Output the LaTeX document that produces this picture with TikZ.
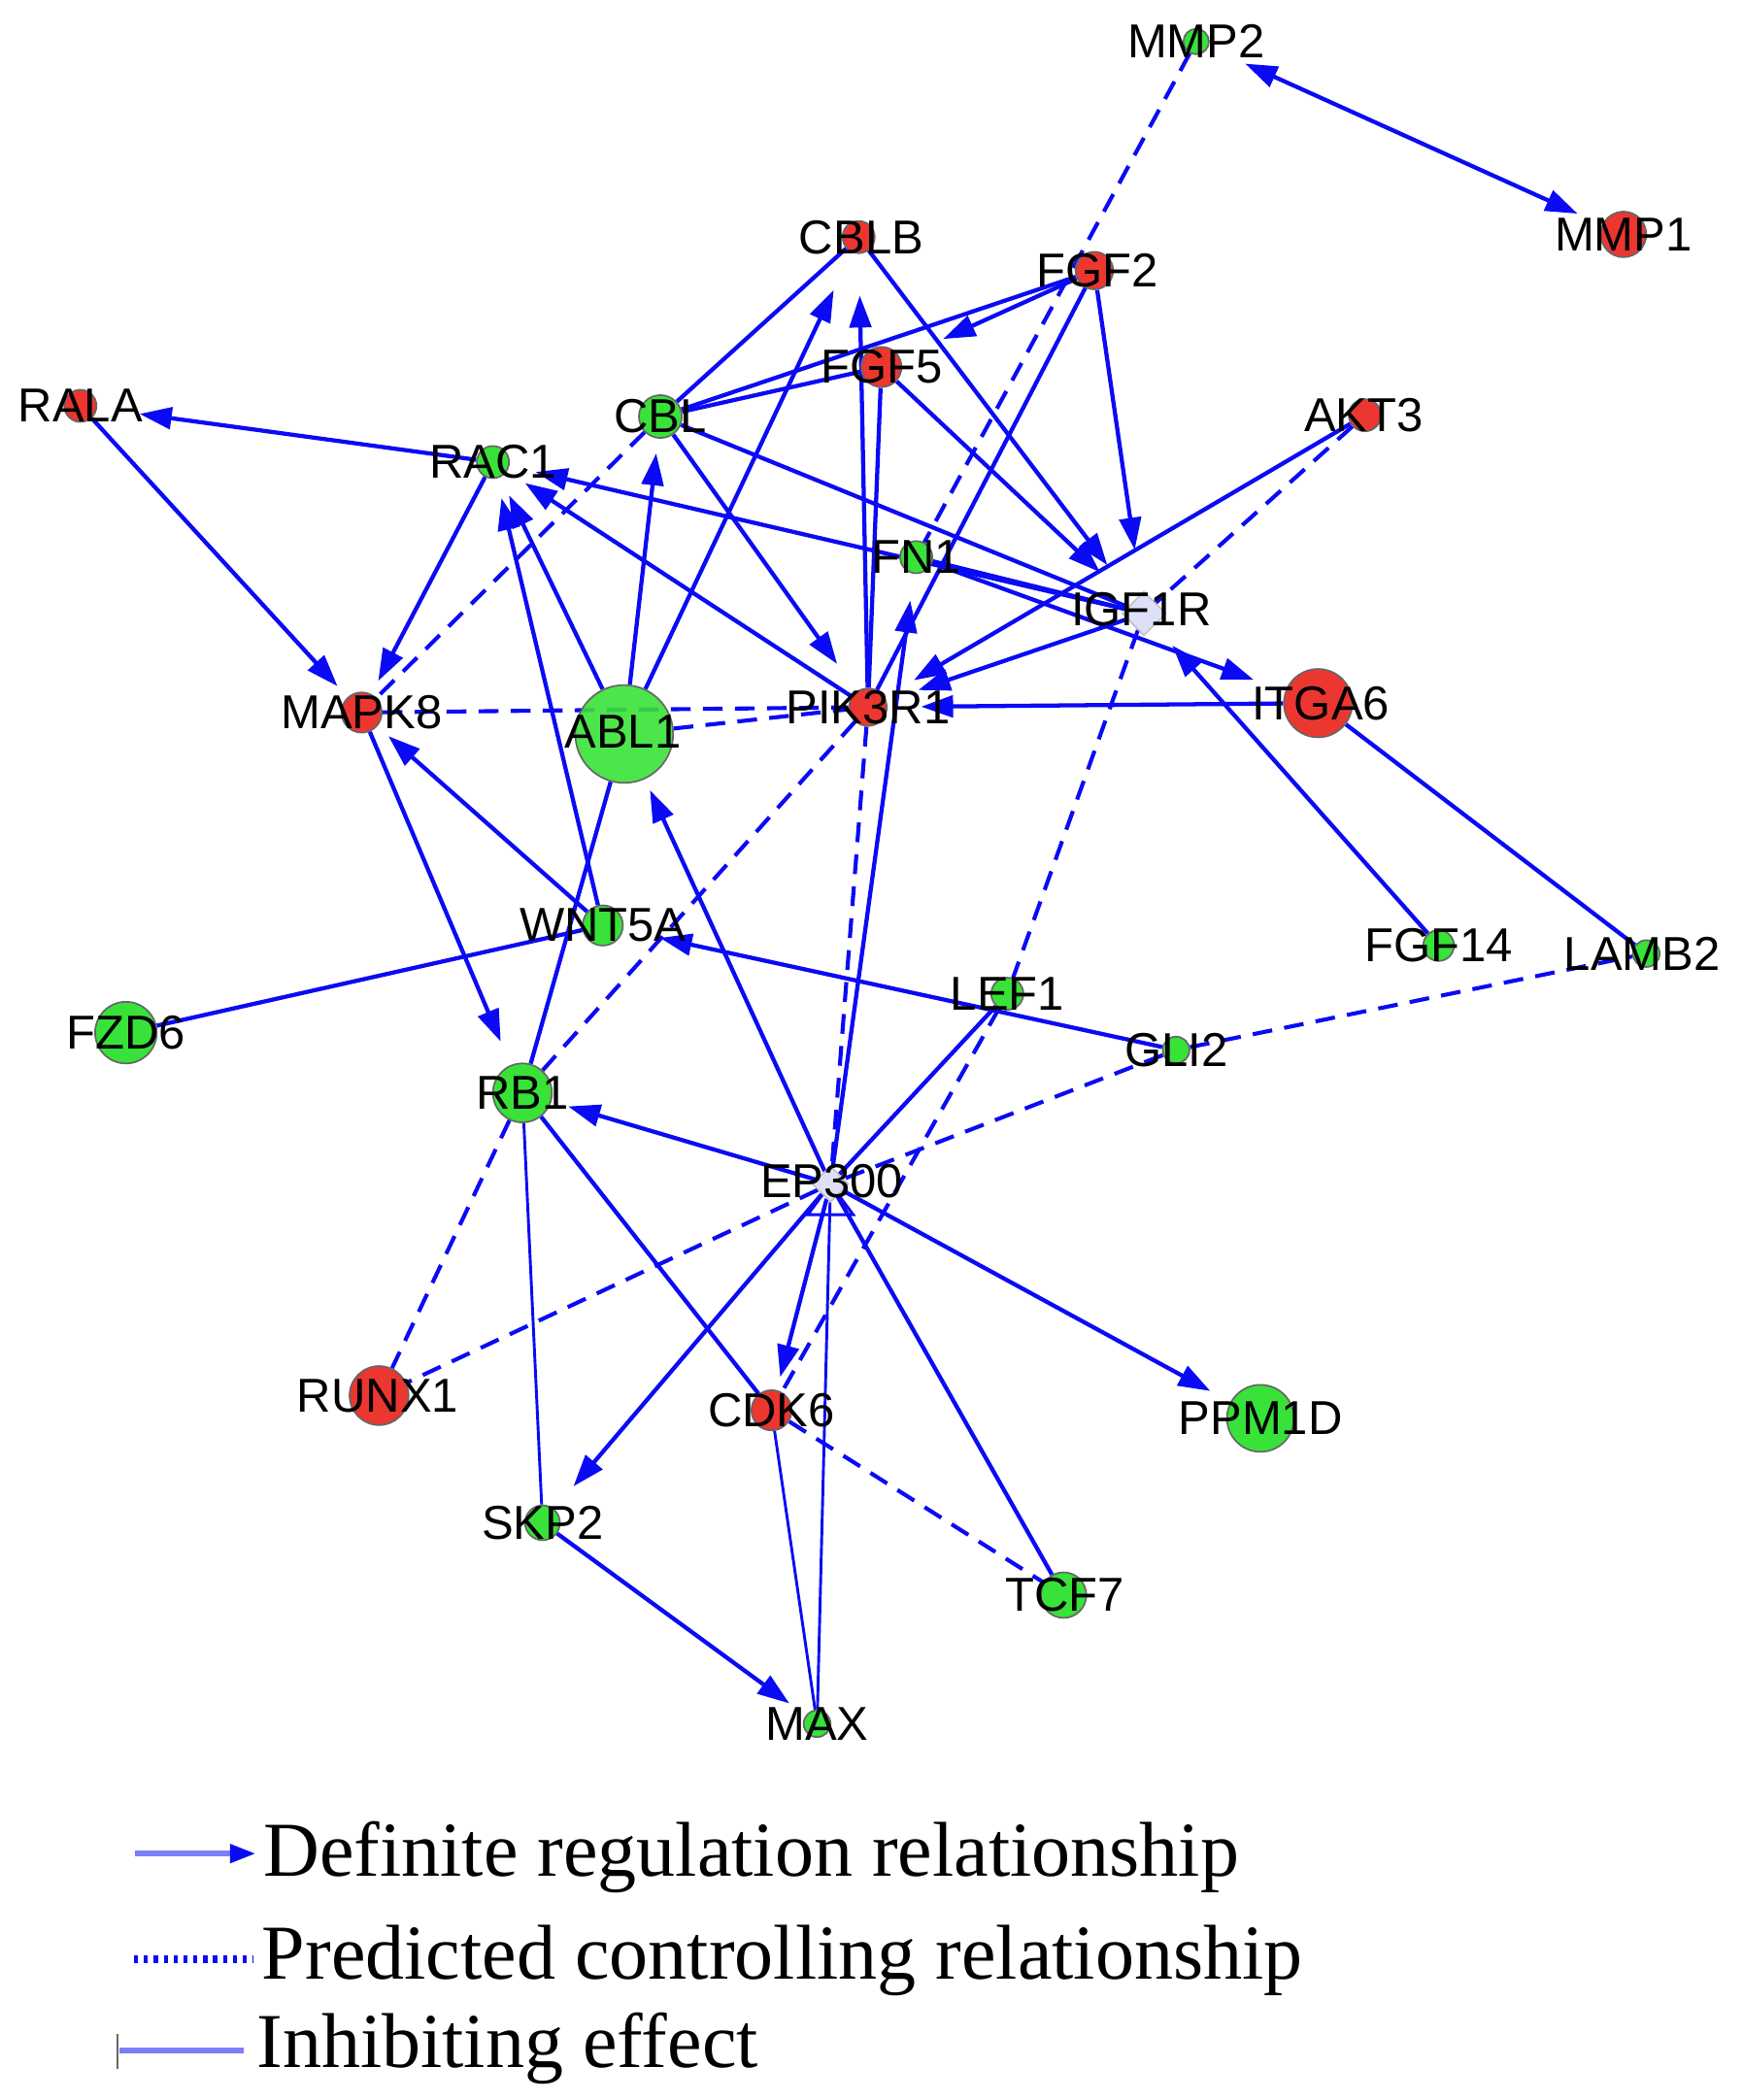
\documentclass[tikz,border=0pt]{standalone}
\usepackage{fontspec}
\setmainfont{Liberation Serif}
\newfontfamily\lsans{Liberation Sans}
\usetikzlibrary{shapes.geometric,arrows.meta,backgrounds}
\definecolor{eblue}{RGB}{10,10,245}
\definecolor{nred}{RGB}{236,54,48}
\definecolor{ngreen}{RGB}{56,226,56}
\definecolor{dfill}{RGB}{222,224,248}
\definecolor{legl}{RGB}{125,125,250}
\tikzset{
  sol/.style={draw=eblue, line width=0.88pt},
  thin/.style={draw=eblue, line width=0.6pt},
  pred/.style={draw=eblue, line width=0.85pt, dash pattern=on 4.2pt off 2.6pt},
  arr/.style={-{Triangle[length=6.8pt,width=4.6pt]}, shorten >=#1},
  rnode/.style={circle, fill=nred, draw=black!60, line width=0.35pt, inner sep=0pt, minimum size=#1},
  gnode/.style={circle, fill=ngreen, draw=black!60, line width=0.35pt, inner sep=0pt, minimum size=#1},
  dnode/.style={diamond, fill=dfill, draw=black!25, line width=0.3pt, inner sep=0pt, minimum width=#1, minimum height=#1},
  lbl/.style={font=\lsans\fontsize{10.1}{12}\selectfont, inner sep=0pt, text=black},
  legtxt/.style={font=\fontsize{16.5}{19}\selectfont, inner sep=0pt, anchor=base west, text=black},
}
\begin{document}
\begin{tikzpicture}[x=0.01cm, y=-0.01cm]
\useasboundingbox (0,0) rectangle (1301,1568);
% nodes (circles)
\node[gnode=1.9mm] (MMP2) at (893,31) {};
\node[rnode=3.4mm] (MMP1) at (1212,175) {};
\node[rnode=2.4mm] (CBLB) at (641,177) {};
\node[rnode=2.8mm] (FGF2) at (817,202) {};
\node[rnode=3.0mm] (FGF5) at (658,274) {};
\node[rnode=2.4mm] (RALA) at (60,303) {};
\node[gnode=3.2mm] (CBL) at (493,311) {};
\node[rnode=2.4mm] (AKT3) at (1019,310) {};
\node[gnode=2.4mm] (RAC1) at (368,345) {};
\node[gnode=2.4mm] (FN1) at (684,416) {};
\node[dnode=3.3mm] (IGF1R) at (854,458) {};
\node[rnode=3.0mm] (MAPK8) at (270,532) {};
\node[gnode=7.3mm, fill opacity=0.9] (ABL1) at (466,548) {};
\node[rnode=2.8mm] (PIK3R1) at (648,528) {};
\node[rnode=5.1mm] (ITGA6) at (984,525) {};
\node[gnode=3.0mm] (WNT5A) at (450,691) {};
\node[gnode=2.3mm] (FGF14) at (1074,706) {};
\node[gnode=2.0mm] (LAMB2) at (1229,712) {};
\node[gnode=2.4mm] (LEF1) at (752,742) {};
\node[gnode=4.6mm] (FZD6) at (94,771) {};
\node[gnode=2.0mm] (GLI2) at (878,784) {};
\node[gnode=4.4mm] (RB1) at (390,816) {};
\node[dnode=2.7mm] (EP300) at (620,884) {};
\node[rnode=4.4mm] (RUNX1) at (283,1042) {};
\node[rnode=3.0mm] (CDK6) at (576,1053) {};
\node[gnode=5.0mm] (PPM1D) at (941,1059) {};
\node[gnode=2.6mm] (SKP2) at (405,1137) {};
\node[gnode=3.4mm] (TCF7) at (794,1191) {};
\node[gnode=2.0mm] (MAX) at (610,1287) {};

\begin{pgfonlayer}{background}
% definite regulation (arrows)
\draw[sol, {Triangle[length=6.8pt,width=4.6pt]}-{Triangle[length=6.8pt,width=4.6pt]}, shorten <=3mm, shorten >=2mm] (MMP2) -- (MMP1);
\draw[sol, arr=3.1mm] (ABL1) -- (CBLB);
\draw[sol, arr=3.1mm] (PIK3R1) -- (CBLB);
\draw[sol, arr=3.3mm] (CBLB) -- (IGF1R);
\draw[sol, arr=3.5mm] (FGF2) -- (FGF5);
\draw[sol, arr=3.3mm] (FGF2) -- (IGF1R);
\draw[sol, arr=3.3mm] (FGF5) -- (IGF1R);
\draw[sol, arr=2mm] (IGF1R) -- (RAC1);
\draw[sol, arr=1.6mm] (PIK3R1) -- (RAC1);
\draw[sol, arr=1.5mm] (ABL1) -- (RAC1);
\draw[sol, arr=1.5mm] (WNT5A) -- (RAC1);
\draw[sol, arr=3.2mm] (RAC1) -- (RALA);
\draw[sol, arr=1.1mm] (RAC1) -- (MAPK8);
\draw[sol, arr=1.1mm] (RALA) -- (MAPK8);
\draw[sol, arr=1.1mm] (WNT5A) -- (MAPK8);
\draw[sol, arr=1.9mm] (MAPK8) -- (RB1);
\draw[sol, arr=1.1mm] (ABL1) -- (CBL);
\draw[sol, arr=2.5mm] (CBL) -- (PIK3R1);
\draw[sol, arr=2.5mm] (ITGA6) -- (PIK3R1);
\draw[sol, arr=2.5mm] (IGF1R) -- (PIK3R1);
\draw[sol, arr=2.5mm] (AKT3) -- (PIK3R1);
\draw[sol, arr=2mm] (EP300) -- (FN1);
\draw[sol, arr=2.5mm] (FN1) -- (ITGA6);
\draw[sol, arr=2mm] (FGF14) -- (IGF1R);
\draw[sol, arr=2.8mm] (GLI2) -- (WNT5A);
\draw[sol, arr=0.9mm] (EP300) -- (ABL1);
\draw[sol, arr=1.3mm] (EP300) -- (RB1);
\draw[sol, arr=2.2mm] (EP300) -- (SKP2);
\draw[sol, arr=1mm] (EP300) -- (CDK6);
\draw[sol, arr=1.7mm] (EP300) -- (PPM1D);
\draw[sol, arr=1.5mm] (SKP2) -- (MAX);
% plain solid
\draw[sol] (CBL) -- (CBLB);
\draw[sol] (CBL) -- (FGF2);
\draw[sol] (CBL) -- (FGF5);
\draw[sol] (CBL) -- (IGF1R);
\draw[sol] (FGF2) -- (PIK3R1);
\draw[sol] (FGF5) -- (PIK3R1);
\draw[sol] (FN1) -- (IGF1R);
\draw[sol] (ITGA6) -- (LAMB2);
\draw[sol] (FZD6) -- (WNT5A);
\draw[sol] (ABL1) -- (RB1);
\draw[sol] (EP300) -- (LEF1);
\draw[sol] (EP300) -- (TCF7);
\draw[sol] (RB1) -- (CDK6);
\draw[thin] (EP300) -- (MAX);
\draw[thin] (RB1) -- (SKP2);
\draw[thin] (CDK6) -- (MAX);
\draw[thin] (EP300.center) -- ++(-17,23) -- ++(34,0) -- cycle;
% predicted (dashed)
\draw[pred] (MMP2) -- (FN1);
\draw[pred] (AKT3) -- (IGF1R);
\draw[pred] (IGF1R) -- (LEF1);
\draw[pred] (LEF1) -- (CDK6);
\draw[pred] (CBL) -- (MAPK8);
\draw[pred] (MAPK8) -- (PIK3R1);
\draw[pred] (ABL1) -- (PIK3R1);
\draw[pred] (PIK3R1) -- (RB1);
\draw[pred] (PIK3R1) -- (EP300);
\draw[pred] (GLI2) -- (LAMB2);
\draw[pred] (GLI2) -- (EP300);
\draw[pred] (EP300) -- (RUNX1);
\draw[pred] (RB1) -- (RUNX1);
\draw[pred] (CDK6) -- (TCF7);
\end{pgfonlayer}

% labels
\node[lbl] (tMMP2) at (MMP2) {MMP2};
\node[lbl] (tMMP1) at (MMP1) {MMP1};
\node[lbl] (tCBLB) at (643,177) {CBLB};
\node[lbl] (tFGF2) at (819,202) {FGF2};
\node[lbl] (tFGF5) at (FGF5) {FGF5};
\node[lbl] (tRALA) at (RALA) {RALA};
\node[lbl] (tCBL) at (CBL) {CBL};
\node[lbl] (tAKT3) at (1018,310) {AKT3};
\node[lbl] (tRAC1) at (RAC1) {RAC1};
\node[lbl] (tFN1) at (FN1) {FN1};
\node[lbl] (tIGF1R) at (852,455) {IGF1R};
\node[lbl] (tMAPK8) at (MAPK8) {MAPK8};
\node[lbl] (tABL1) at (465,546) {ABL1};
\node[lbl] (tPIK3R1) at (PIK3R1) {PIK3R1};
\node[lbl] (tITGA6) at (986,525) {ITGA6};
\node[lbl] (tWNT5A) at (WNT5A) {WNT5A};
\node[lbl] (tFGF14) at (FGF14) {FGF14};
\node[lbl] (tLAMB2) at (1226,712) {LAMB2};
\node[lbl] (tLEF1) at (LEF1) {LEF1};
\node[lbl] (tFZD6) at (FZD6) {FZD6};
\node[lbl] (tGLI2) at (GLI2) {GLI2};
\node[lbl] (tRB1) at (RB1) {RB1};
\node[lbl] (tEP300) at (621,882) {EP300};
\node[lbl] (tRUNX1) at (282,1042) {RUNX1};
\node[lbl] (tCDK6) at (CDK6) {CDK6};
\node[lbl] (tPPM1D) at (PPM1D) {PPM1D};
\node[lbl] (tSKP2) at (SKP2) {SKP2};
\node[lbl] (tTCF7) at (795,1191) {TCF7};
\node[lbl] (tMAX) at (MAX) {MAX};

% legend
\coordinate (la1) at (101,1384);
\coordinate (la2) at (191,1384);
\draw[draw=legl, line width=1.2pt, -{Triangle[length=5.5pt,width=3.8pt,color=eblue]}] (la1) -- (la2);
\coordinate (lb1) at (100,1463);
\coordinate (lb2) at (189,1463);
\draw[draw=eblue, line width=1.6pt, dash pattern=on 0.9pt off 1.2pt] (lb1) -- (lb2);
\coordinate (lc1) at (89,1531);
\coordinate (lc2) at (182,1531);
\draw[draw=legl, line width=1.3pt] (lc1) -- (lc2);
\draw[draw=black!60, line width=0.4pt] (88,1519) -- (88,1545);
\node[legtxt] (lt1) at (196,1401) {Definite regulation relationship};
\node[legtxt] (lt2) at (195,1478) {Predicted controlling relationship};
\node[legtxt] (lt3) at (191,1544) {Inhibiting effect};
\end{tikzpicture}
\end{document}
